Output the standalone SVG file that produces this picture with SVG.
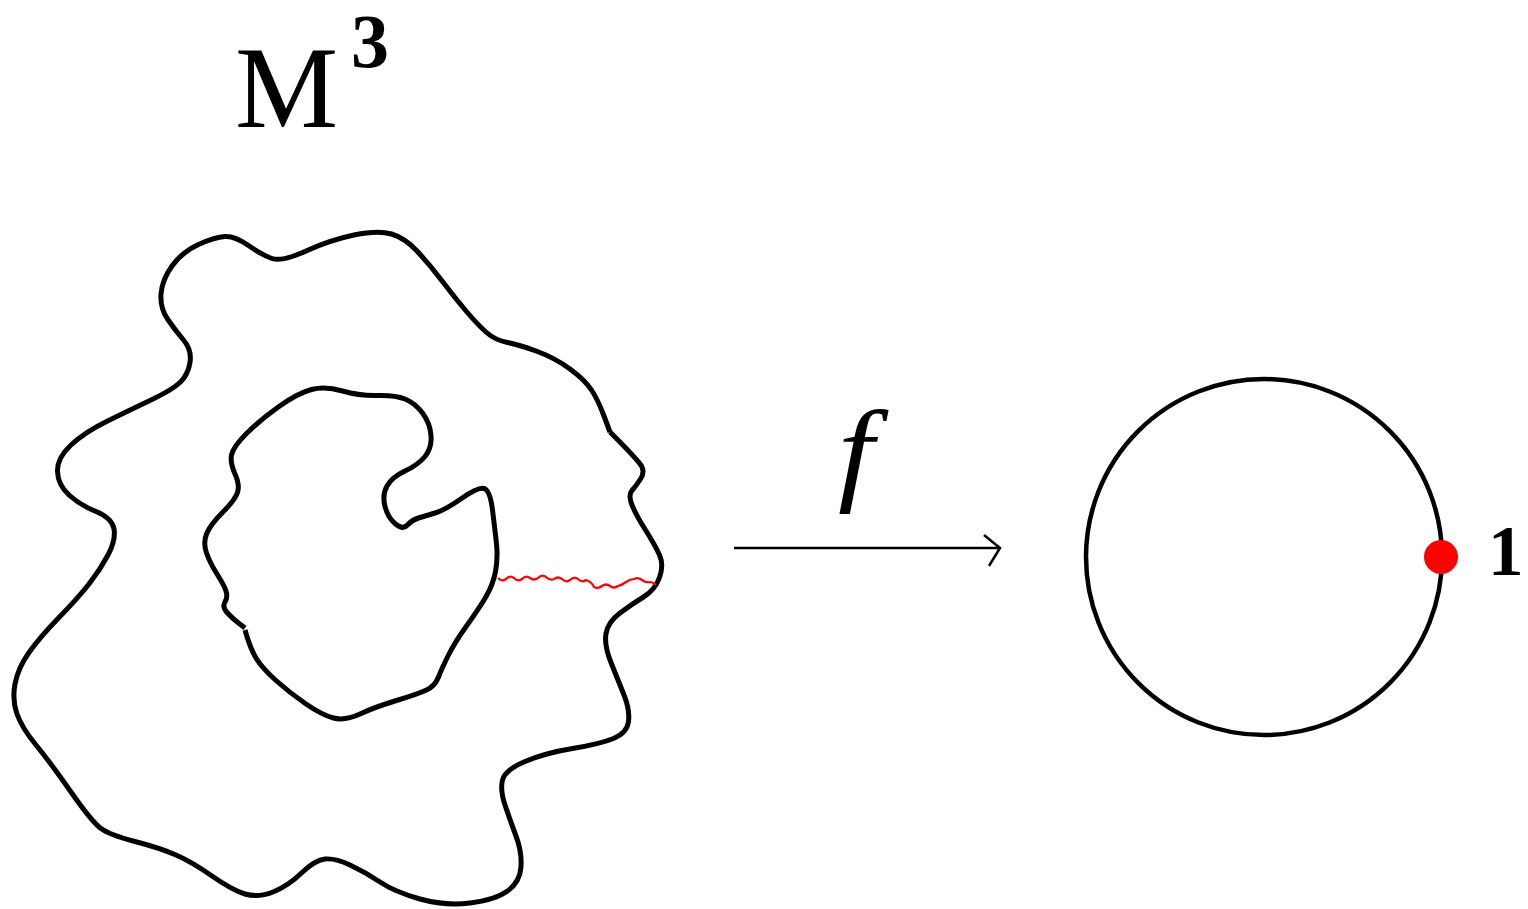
<svg xmlns="http://www.w3.org/2000/svg" width="1528" height="909" viewBox="0 0 1528 909">
<style>
.curve{fill:none;stroke:#000;stroke-width:5;stroke-linejoin:round;stroke-linecap:butt}
.red{fill:none;stroke:#f00;stroke-width:2.2}
.arrow{fill:none;stroke:#000;stroke-width:2.5}
.lbl{font-family:"Liberation Serif","Times New Roman",serif;fill:#000}
</style>
<rect width="1528" height="909" fill="#fff"/>
<g id="label-M3">
<text class="lbl" x="235" y="127" font-size="116">M</text>
<text class="lbl" x="351" y="67" font-size="76" font-weight="bold">3</text>
</g>
<g id="manifold">
<path class="curve" d="M610,432 L604,416 Q598,400 591.5,390 Q585,380 570,369 Q555,358 537.5,351.5 Q520,345 507.5,342.5 Q495,340 486.5,332.5 Q478,325 466.5,311.5 Q455,298 442.5,281.5 Q430,265 417.5,251.5 Q405,238 391.5,234 Q378,230 354,235 Q330,240 306,251 Q282,262 272,258.5 Q262,255 248.5,245.5 Q235,236 225,236.5 Q215,237 198.5,244.5 Q182,252 172,266 Q162,280 161,294 Q160,308 167.5,319 Q175,330 183.5,340 Q192,350 190,362.5 Q188,375 180,382.5 Q172,390 151,400 Q130,410 107.5,421 Q85,432 71,445 Q57,458 57.5,471.5 Q58,485 69,495 Q80,505 96,511.5 Q112,518 114,529 Q116,540 108,555 Q100,570 89,584 Q78,598 59,617.5 Q40,637 29,652.5 Q18,668 15,684 Q12,700 17,714 Q22,728 36,745 Q50,762 71,792 Q92,822 101,828.5 Q110,835 135,841.5 Q160,848 176,855 Q192,862 212,876 Q232,890 245,894 Q258,898 273,892 Q288,886 301.5,873 Q315,860 325,859 Q335,858 350,865 Q365,872 380,882 Q395,892 420,899 Q445,906 470,903 Q495,900 507.5,891 Q520,882 521,867 Q522,852 516,836 Q510,820 505,805 Q500,790 502.5,780 Q505,770 525,761.5 Q545,753 572.5,748.5 Q600,744 613.5,738.5 Q627,733 628.5,721.5 Q630,710 624,695 Q618,680 611,662.5 Q604,645 606,633.5 Q608,622 620,613 Q632,604 643.5,597 Q655,590 659.5,577.5 Q664,565 659.5,555 Q655,545 645.5,530 Q636,515 632,505 Q628,495 632,490.5 Q636,486 640.5,479 Q645,472 641.5,466 Q638,460 610,432"/>
<path class="curve" d="M245,628 L238.5,623 Q232,618 227,612.5 Q222,607 225,602 Q228,597 226,591 Q224,585 217,574 Q210,563 206.5,553 Q203,543 206.5,534 Q210,525 222.5,512.5 Q235,500 237.5,492.5 Q240,485 235,474 Q230,463 231.5,455 Q233,447 246.5,433.5 Q260,420 279,406.5 Q298,393 311.5,389.5 Q325,386 342.5,391 Q360,396 377.5,395.5 Q395,395 405,399 Q415,403 422.5,413 Q430,423 431,435.5 Q432,448 425,456.5 Q418,465 405,471 Q392,477 387,486 Q382,495 385,506.5 Q388,518 395.5,524 Q403,530 407.5,525 Q412,520 418.5,518 Q425,516 435,513 Q445,510 461.5,498.5 Q478,487 484,488.5 Q490,490 492.5,510 Q495,530 496.5,544 Q498,558 495.5,571.5 Q493,585 485.5,597.5 Q478,610 466.5,626 Q455,642 448.5,655 Q442,668 438.5,677 Q435,686 426.5,690 Q418,694 396.5,700.5 Q375,707 360,714 Q345,721 333.5,718 Q322,715 306,704 Q290,693 276,680.5 Q262,668 256,658 Q250,648 245,630"/>
<path class="red" d="M498,578 Q502,582 506,579 Q510,575 514,578 Q518,582 522,579 Q526,575 530,578 Q534,581 538,578 Q542,574 546,577 Q550,581 554,579 Q558,576 562,579 Q566,583 570,580 Q574,576 578,579 Q582,583 586,580 Q592,582 594,587 Q598,589 602,586 Q606,583 610,586 Q614,589 618,586 Q622,585 626,582 Q630,579 634,579 Q638,577 642,580 Q646,583 650,582 Q653,582 656,585"/>
</g>
<g id="connectors">
<line class="arrow" x1="734" y1="548" x2="1000" y2="548"/>
<polyline class="arrow" points="984,535 1000,548 989,566"/>
<text class="lbl" transform="translate(838,490) scale(1.12,1)" x="0" y="0" font-size="115" font-style="italic">f</text>
</g>
<g id="circle">
<circle cx="1264" cy="557" r="178" fill="none" stroke="#000" stroke-width="4.5"/>
<circle cx="1441" cy="557" r="17" fill="#f00"/>
<text class="lbl" x="1488" y="575" font-size="71" font-weight="bold">1</text>
</g>
</svg>
